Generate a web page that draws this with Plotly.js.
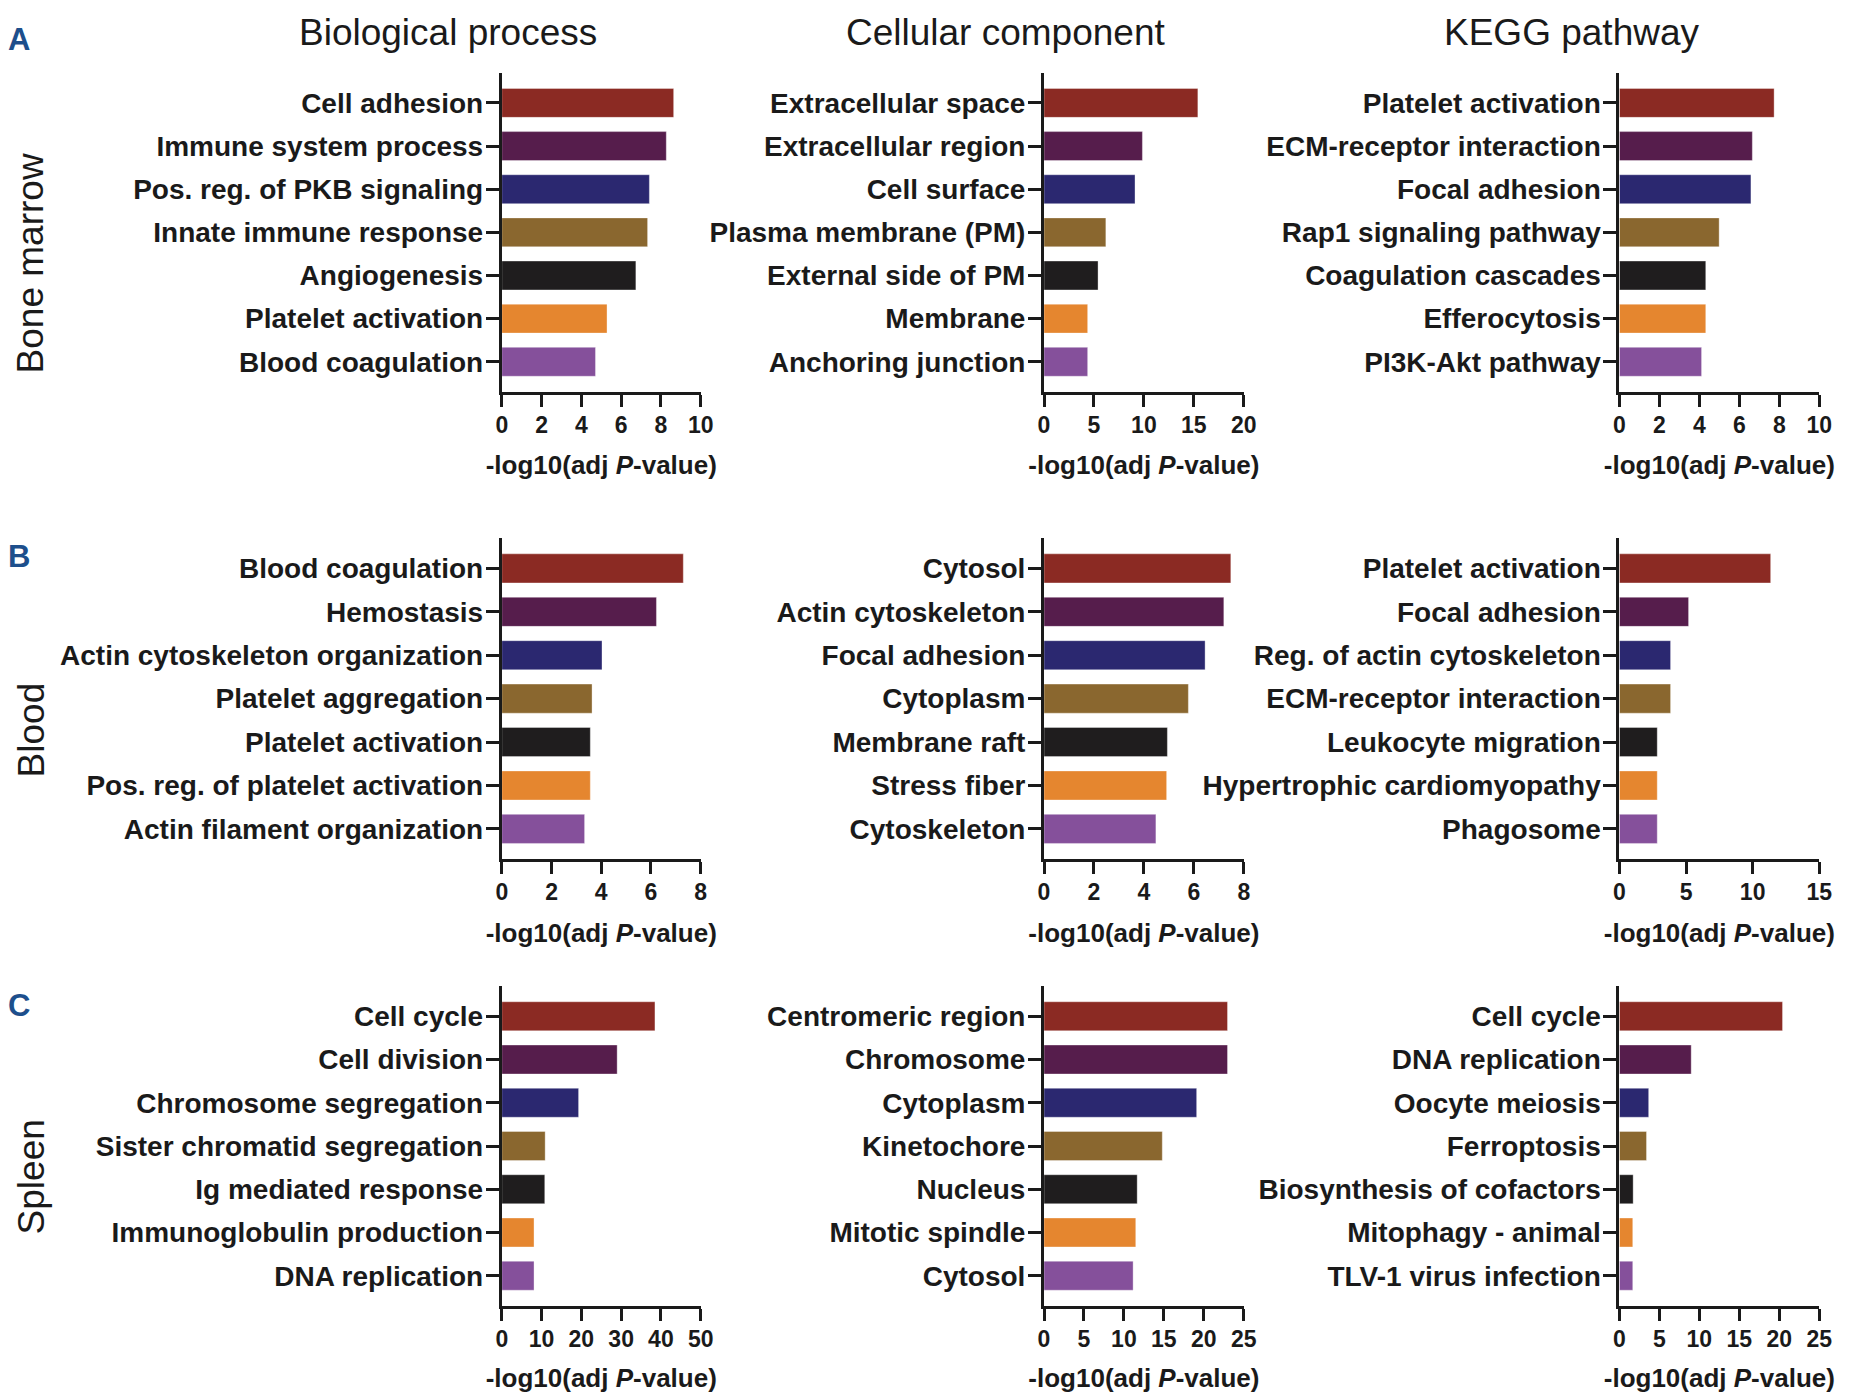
<!DOCTYPE html>
<html>
<head>
<meta charset="utf-8">
<script src="https://cdn.plot.ly/plotly-3.0.1.min.js"></script>
<style>html,body{margin:0;padding:0;background:#fff;}#chart{width:1854px;height:1393px;}</style>
</head>
<body>
<div id="chart"></div>
<script>
// ---------- data ----------
const colTitles = ["Biological process", "Cellular component", "KEGG pathway"];
const rowTitles = ["Bone marrow", "Blood", "Spleen"];
const panelLetters = ["A", "B", "C"];
const barColors = ["#8B2A23", "#561D4C", "#2B2870", "#8A672F", "#1F1D1E", "#E5862F", "#85509B"];

// Bone marrow
const bmBpTerms = ["Cell adhesion", "Immune system process", "Pos. reg. of PKB signaling", "Innate immune response", "Angiogenesis", "Platelet activation", "Blood coagulation"];
const bmBpValues = [8.64, 8.27, 7.42, 7.33, 6.74, 5.29, 4.71];
const bmCcTerms = ["Extracellular space", "Extracellular region", "Cell surface", "Plasma membrane (PM)", "External side of PM", "Membrane", "Anchoring junction"];
const bmCcValues = [15.4, 9.85, 9.11, 6.19, 5.41, 4.37, 4.37];
const bmKeggTerms = ["Platelet activation", "ECM-receptor interaction", "Focal adhesion", "Rap1 signaling pathway", "Coagulation cascades", "Efferocytosis", "PI3K-Akt pathway"];
const bmKeggValues = [7.74, 6.65, 6.58, 4.99, 4.32, 4.32, 4.11];

// Blood
const blBpTerms = ["Blood coagulation", "Hemostasis", "Actin cytoskeleton organization", "Platelet aggregation", "Platelet activation", "Pos. reg. of platelet activation", "Actin filament organization"];
const blBpValues = [7.30, 6.22, 4.03, 3.63, 3.56, 3.56, 3.33];
const blCcTerms = ["Cytosol", "Actin cytoskeleton", "Focal adhesion", "Cytoplasm", "Membrane raft", "Stress fiber", "Cytoskeleton"];
const blCcValues = [7.48, 7.20, 6.45, 5.78, 4.94, 4.91, 4.48];
const blKeggTerms = ["Platelet activation", "Focal adhesion", "Reg. of actin cytoskeleton", "ECM-receptor interaction", "Leukocyte migration", "Hypertrophic cardiomyopathy", "Phagosome"];
const blKeggValues = [11.35, 5.19, 3.84, 3.84, 2.84, 2.84, 2.84];

// Spleen
const spBpTerms = ["Cell cycle", "Cell division", "Chromosome segregation", "Sister chromatid segregation", "Ig mediated response", "Immunoglobulin production", "DNA replication"];
const spBpValues = [38.5, 29.0, 19.3, 10.9, 10.8, 8.1, 8.1];
const spCcTerms = ["Centromeric region", "Chromosome", "Cytoplasm", "Kinetochore", "Nucleus", "Mitotic spindle", "Cytosol"];
const spCcValues = [22.96, 22.96, 19.1, 14.8, 11.66, 11.48, 11.15];
const spKeggTerms = ["Cell cycle", "DNA replication", "Oocyte meiosis", "Ferroptosis", "Biosynthesis of cofactors", "Mitophagy - animal", "TLV-1 virus infection"];
const spKeggValues = [20.4, 8.98, 3.66, 3.39, 1.72, 1.67, 1.67];

// axis maxima and tick steps per panel (row-major)
const axisMax = [10, 20, 10, 8, 8, 15, 50, 25, 25];
const axisStep = [2, 5, 2, 2, 2, 5, 10, 5, 5];

const panels = [
  [bmBpTerms, bmBpValues], [bmCcTerms, bmCcValues], [bmKeggTerms, bmKeggValues],
  [blBpTerms, blBpValues], [blCcTerms, blCcValues], [blKeggTerms, blKeggValues],
  [spBpTerms, spBpValues], [spCcTerms, spCcValues], [spKeggTerms, spKeggValues]
];

// ---------- layout geometry (pixels) ----------
const W = 1854, H = 1393;
const colX = [[501.8, 700.7], [1044, 1243.8], [1619.4, 1819.3]];
const rowY = [[72.7, 392], [538, 859.3], [986, 1306]];

const FONT = "Liberation Sans, Arial, Helvetica, sans-serif";
const traces = [];
const layout = {
  width: W, height: H,
  margin: {l: 0, r: 0, t: 0, b: 0},
  paper_bgcolor: "#fff", plot_bgcolor: "#fff",
  showlegend: false,
  font: {family: FONT, color: "#1a1a1a"},
  annotations: []
};

panels.forEach((p, i) => {
  const r = Math.floor(i / 3), c = i % 3;
  const n = i + 1;
  const xa = "x" + (n === 1 ? "" : n), ya = "y" + (n === 1 ? "" : n);
  traces.push({
    type: "bar", orientation: "h",
    x: p[1], y: p[0],
    xaxis: xa, yaxis: ya,
    width: 0.67,
    marker: {color: barColors, line: {color: "rgba(255,255,255,0.35)", width: 1}},
    hoverinfo: "x+y"
  });
  const xkey = "xaxis" + (n === 1 ? "" : n), ykey = "yaxis" + (n === 1 ? "" : n);
  layout[xkey] = {
    domain: [colX[c][0] / W, colX[c][1] / W],
    anchor: ya,
    range: [0, axisMax[i]],
    tick0: 0, dtick: axisStep[i],
    showgrid: false, zeroline: false,
    showline: true, linecolor: "#1a1a1a", linewidth: 3,
    ticks: "outside", ticklen: 12, tickwidth: 3, tickcolor: "#1a1a1a",
    ticklabelstandoff: -2,
    tickfont: {family: FONT, size: 23, color: "#1a1a1a", weight: "bold"},
    title: {text: "<b>-log10(adj <i>P</i>-value)</b>", font: {family: FONT, size: 26, color: "#1a1a1a"}, standoff: 20},
    fixedrange: true
  };
  layout[ykey] = {
    domain: [1 - rowY[r][1] / H, 1 - rowY[r][0] / H],
    anchor: xa,
    type: "category",
    categoryorder: "array", categoryarray: p[0],
    range: [6.7, -0.7],
    showgrid: false, zeroline: false,
    showline: true, linecolor: "#1a1a1a", linewidth: 3,
    ticks: "outside", ticklen: 13, tickwidth: 3, tickcolor: "#1a1a1a",
    ticklabelstandoff: -3,
    tickfont: {family: FONT, size: 28, color: "#1a1a1a", weight: "bold"},
    fixedrange: true
  };
});

// column titles
const colTitleX = [447.6, 1006, 1571.7];
colTitles.forEach((t, c) => {
  layout.annotations.push({
    text: t, xref: "paper", yref: "paper",
    x: colTitleX[c] / W, y: 1 - 32 / H,
    xanchor: "center", yanchor: "middle", showarrow: false,
    font: {family: FONT, size: 37, color: "#1a1a1a"}
  });
});
// row titles
const rowTitleY = [263, 730, 1177];
rowTitles.forEach((t, r) => {
  layout.annotations.push({
    text: t, xref: "paper", yref: "paper",
    x: 31.4 / W, y: 1 - rowTitleY[r] / H,
    xanchor: "center", yanchor: "middle", showarrow: false, textangle: -90,
    font: {family: FONT, size: 37, color: "#1a1a1a"}
  });
});
// panel letters
const letterY = [40, 556, 1006];
panelLetters.forEach((t, r) => {
  layout.annotations.push({
    text: "<b>" + t + "</b>", xref: "paper", yref: "paper",
    x: 19 / W, y: 1 - letterY[r] / H,
    xanchor: "center", yanchor: "middle", showarrow: false,
    font: {family: FONT, size: 31, color: "#1D4F8C"}
  });
});

Plotly.newPlot("chart", traces, layout, {displayModeBar: false, staticPlot: true});
</script>
</body>
</html>
